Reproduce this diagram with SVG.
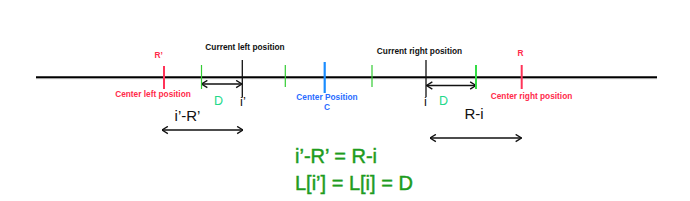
<svg xmlns="http://www.w3.org/2000/svg" width="690" height="201" viewBox="0 0 690 201">
<style>
text{font-family:"Liberation Sans",Arial,sans-serif}
.lbl{font-size:8.3px;font-weight:bold;text-anchor:middle}
.red{fill:#ff2a4a}
.blk{fill:#111}
.blue{fill:#2a6cff}
.teal{fill:#22d98a;font-size:12.5px;text-anchor:middle}
.mid{font-size:15px;text-anchor:middle;fill:#111}
.sm{font-size:13px}
.big{font-size:20px;fill:#1e9c1e;stroke:#1e9c1e;stroke-width:0.45}
.tr{stroke:#ff3358;stroke-width:2}
.tg{stroke:#33cc33;stroke-width:1.2}
.tg2{stroke:#33dd44;stroke-width:2}
.tb{stroke:#111;stroke-width:1.3}
.tbl{stroke:#1a8cff;stroke-width:2.2}
.arr{stroke:#111;stroke-width:1.4;fill:none;marker-start:url(#chev);marker-end:url(#chev)}
</style>
<defs>
<marker id="chev" viewBox="0 0 10 10" refX="9.5" refY="5" markerUnits="userSpaceOnUse" markerWidth="9" markerHeight="9" orient="auto-start-reverse">
<path d="M3,1 L9.5,5 L3,9" fill="none" stroke="#111" stroke-width="1.5"/>
</marker>
</defs>
<rect width="690" height="201" fill="#fff"/>
<g id="axis">
<line x1="36" y1="78.6" x2="657" y2="78.6" stroke="#999" stroke-width="1"/>
<line x1="36" y1="77.2" x2="657" y2="77.2" stroke="#000" stroke-width="1.8"/>
</g>
<g id="connectors">
<line class="arr" x1="201.5" y1="84" x2="242" y2="84"/>
<line class="arr" x1="426.5" y1="85.5" x2="476" y2="85.5"/>
<line class="arr" x1="162" y1="130" x2="243" y2="130"/>
<line class="arr" x1="430" y1="138" x2="521.5" y2="138"/>
</g>
<g id="center-left">
<line class="tr" x1="164" y1="66" x2="164" y2="89"/>
<text class="lbl red" x="158.7" y="58">R’</text>
<text class="lbl red" x="153" y="96.5">Center left position</text>
</g>
<g id="green-1"><line class="tg" x1="201.5" y1="65" x2="201.5" y2="89"/></g>
<g id="current-left">
<line class="tb" x1="242.3" y1="60" x2="242.3" y2="97.5"/>
<text class="lbl blk" x="245" y="50">Current left position</text>
<text class="mid sm" x="243" y="106">i’</text>
</g>
<g id="green-2"><line class="tg" x1="285.3" y1="65" x2="285.3" y2="87"/></g>
<g id="center">
<line class="tbl" x1="324.7" y1="62" x2="324.7" y2="93"/>
<text class="lbl blue" x="327" y="100">Center Position</text>
<text class="lbl blue" x="327" y="110">C</text>
</g>
<g id="green-3"><line class="tg" x1="372" y1="65" x2="372" y2="87"/></g>
<g id="current-right">
<line class="tb" x1="426" y1="60" x2="426" y2="97"/>
<text class="lbl blk" x="419.5" y="53.5">Current right position</text>
<text class="mid sm" x="425.5" y="106">i</text>
</g>
<g id="green-4"><line class="tg2" x1="476" y1="65" x2="476" y2="89"/></g>
<g id="center-right">
<line class="tr" x1="521.7" y1="65" x2="521.7" y2="89"/>
<text class="lbl red" x="520.5" y="56">R</text>
<text class="lbl red" x="531.5" y="99">Center right position</text>
</g>
<g id="labels">
<text class="teal" x="218.5" y="105">D</text>
<text class="teal" x="443.5" y="104.5">D</text>
<text class="mid" x="187.5" y="121">i’-R’</text>
<text class="mid" x="474" y="119">R-i</text>
<text class="big" x="295" y="162.5">i’-R’ = R-i</text>
<text class="big" x="295" y="190">L[i’] = L[i] = D</text>
</g>
</svg>
